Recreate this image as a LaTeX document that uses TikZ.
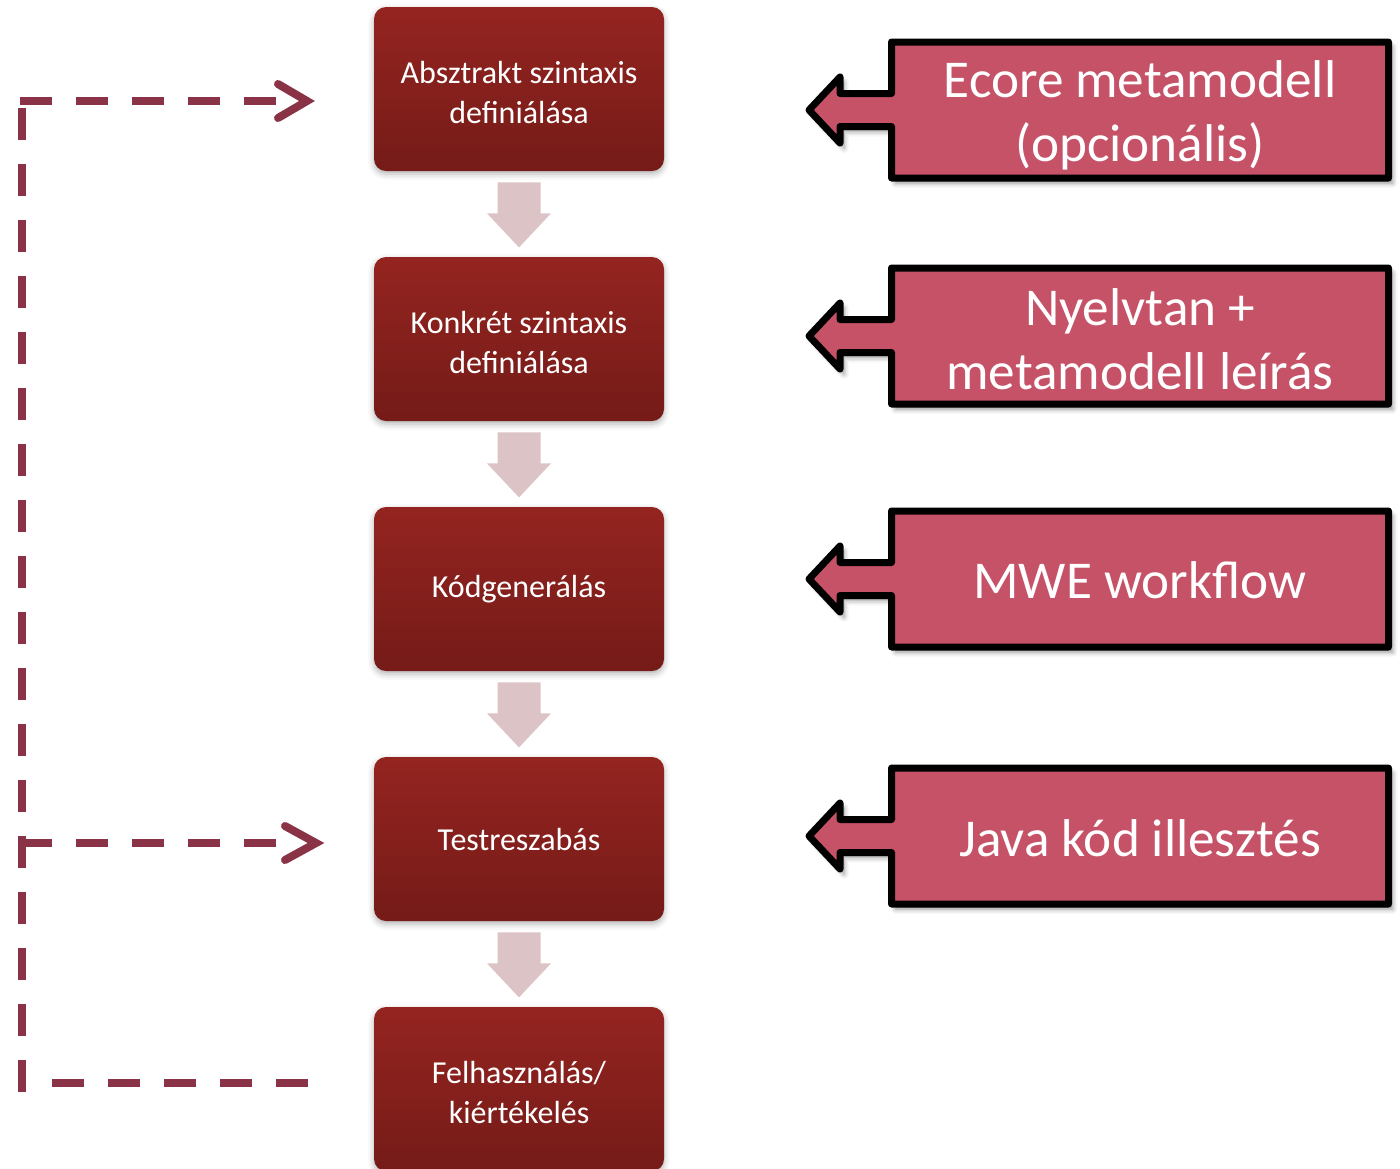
\documentclass[tikz,border=0pt]{standalone}
\usepackage{fontspec}
\setmainfont{Carlito}
\usetikzlibrary{shadows.blur,calc}
\definecolor{boxtop}{RGB}{148,36,32}
\definecolor{boxbot}{RGB}{117,27,24}
\definecolor{flowarrow}{RGB}{219,195,198}
\definecolor{notefill}{RGB}{198,82,104}
\definecolor{loopcol}{RGB}{139,51,70}
% two centred lines, set a little low in their box
\newcommand\steplines[2]{\begin{tabular}{@{}c@{}}\rule{0pt}{20pt}#1\\#2\end{tabular}}
\tikzset{
  stepbox/.style={rounded corners=6pt, minimum width=145pt, minimum height=82pt,
    top color=boxtop, bottom color=boxbot, text=white, align=center, inner sep=0pt,
    font=\fontsize{16}{20}\selectfont,
    blur shadow={shadow xshift=0pt, shadow yshift=-1.5pt, shadow blur radius=3pt, shadow opacity=30}},
  notetext/.style={text=white, align=center, inner sep=0pt, font=\fontsize{26.6}{31.8}\selectfont},
  noteshape/.style={draw=black, fill=notefill, line width=3.5pt, line join=round,
    blur shadow={shadow xshift=2pt, shadow yshift=-2.5pt, shadow blur radius=2.5pt, shadow opacity=45}},
  loopline/.style={draw=loopcol, line width=4pt, dash pattern=on 16pt off 12pt},
  loophead/.style={draw=loopcol, line width=4pt, line cap=round, line join=miter}
}
\begin{document}
\begin{tikzpicture}[x=0.5pt,y=-0.5pt]
\useasboundingbox (0,0) rectangle (1400,1168);

% process steps
\node[stepbox] (b1) at (519,89)   {\steplines{Absztrakt szintaxis}{definiálása}};
\node[stepbox] (b2) at (519,339)  {\steplines{Konkrét szintaxis}{definiálása}};
\node[stepbox] (b3) at (519,589)  {Kódgenerálás};
\node[stepbox] (b4) at (519,839)  {Testreszabás};
\node[stepbox] (b5) at (519,1089) {\steplines{Felhasználás/}{kiértékelés}};

% block arrows between the steps
\foreach \a in {b1,b2,b3,b4} {
  \fill[flowarrow] ($(\a.south)+(-21.5,11)$) -- ++(43,0) -- ++(0,31) -- ++(10.5,0)
    -- ++(-32,34) -- ++(-32,-34) -- ++(10.5,0) -- cycle;
}

% callouts pointing back at the steps
\foreach \cy in {110,336,579,836} {
  \path[noteshape] (891.5,\cy-68) -- (1388.5,\cy-68) -- (1388.5,\cy+68) -- (891.5,\cy+68)
    -- (891.5,\cy+16.5) -- (840,\cy+16.5) -- (840,\cy+33) -- (809,\cy) -- (840,\cy-33)
    -- (840,\cy-16.5) -- (891.5,\cy-16.5) -- cycle;
}
\node[notetext] (n1) at (1140,115.5) {Ecore metamodell\\(opcionális)};
\node[notetext] (n2) at (1140,339) {Nyelvtan +\\metamodell leírás};
\node[notetext] (n3) at (1140,580) {MWE workflow};
\node[notetext] (n4) at (1140,838) {Java kód illesztés};

% feedback loop
\coordinate (loopTop) at (21.5,108);
\coordinate (loopBot) at (21.5,1092);
\coordinate (topStart) at (20,101);
\coordinate (topEnd) at (276,101);
\coordinate (midStart) at (20,843);
\coordinate (midEnd) at (276,843);
\coordinate (botStart) at (52,1083);
\coordinate (botEnd) at (308,1083);
\draw[loopline] (loopTop) -- (loopBot);
\draw[loopline] (topStart) -- (topEnd);
\draw[loopline] (midStart) -- (midEnd);
\draw[loopline] (botStart) -- (botEnd);
\draw[loophead] ($(topEnd)+(2,-17)$) -- ($(topEnd)+(31,0)$) -- ($(topEnd)+(2,17)$);
\draw[loophead] ($(midEnd)+(9,-17)$) -- ($(midEnd)+(40,0)$) -- ($(midEnd)+(9,17)$);
\end{tikzpicture}
\end{document}
